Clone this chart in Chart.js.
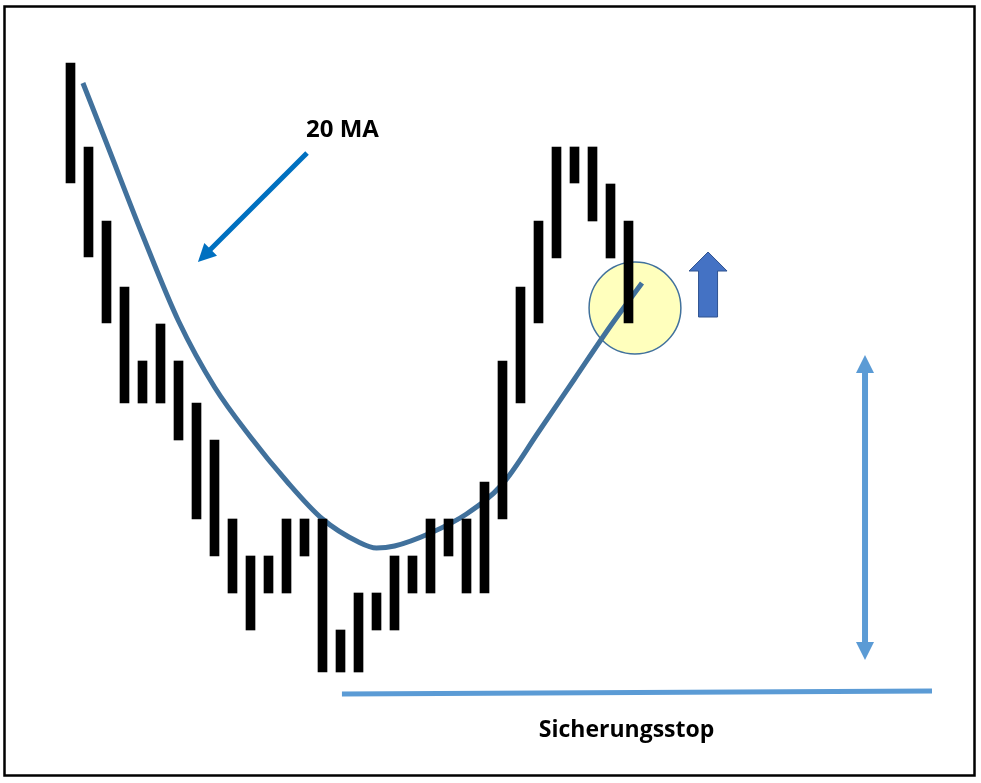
<!DOCTYPE html>
<html>
<head>
<meta charset="utf-8">
<script src="https://cdn.jsdelivr.net/npm/chart.js@4/dist/chart.umd.min.js"></script>
<style>
html,body{margin:0;padding:0;background:#fff;overflow:hidden}
#wrap{width:981px;height:783px;position:relative}
</style>
</head>
<body>
<div id="wrap"><canvas id="c" width="981" height="783"></canvas></div>
<script>
// ---- Data (price units) ----
const barIndex = [0,1,2,3,4,5,6,7,8,9,10,11,12,13,14,15,16,17,18,19,20,21,22,23,24,25,26,27,28,29,30,31];
const barHigh  = [72.0,63.6,56.2,49.6,42.2,45.9,42.2,38.0,34.3,26.4,22.7,22.7,26.4,26.4,26.4,15.3,19.0,19.0,22.7,22.7,26.4,26.4,26.4,30.1,42.2,49.6,56.2,63.6,63.6,63.6,59.9,56.2];
const barLow   = [60.0,52.6,46.0,38.0,38.0,38.0,34.3,26.4,22.7,19.0,15.3,19.0,19.0,22.7,11.1,11.1,11.1,15.3,15.3,19.0,19.0,22.7,19.0,19.0,26.4,38.0,46.0,52.5,60.0,56.2,52.5,46.0];

// 20-period moving average (sampled along the curve)
const maX     = [0.69,2,4,6,8,10,12,14,16,17,18,20,22,24,26,28,30,31.75];
const maValue = [70.0,64.0,54.8,46.2,39.6,34.6,30.2,26.4,24.1,23.5,23.7,25.0,26.9,29.9,35.1,40.4,45.7,50.0];

const labelMA = "20 MA";
const labelStop = "Sicherungsstop";

// ---- Annotation anchors (in data units) ----
const ann = {
  maLabel:   {x: 15.11, y: 64.6},
  maArrow:   {x1: 13.14, y1: 63.0, x2: 7.08, y2: 52.1},
  circle:    {x: 31.36, y: 47.5, r: 2.55},
  upArrow:   {x: 35.42, yTip: 53.1, yBase: 46.6},
  range:     {x: 44.14, yTop: 42.8, yBottom: 12.3},
  stopLine:  {x1: 15.08, y1: 8.9, x2: 47.86, y2: 9.2},
  stopLabel: {x: 30.89, y: 4.6}
};

const barData = barIndex.map((x, i) => ({x: x, y: [barLow[i], barHigh[i]]}));
const maData = maX.map((x, i) => ({x: x, y: maValue[i]}));

function arrowHead(ctx, x1, y1, x2, y2, len, width) {
  const a = Math.atan2(y2 - y1, x2 - x1);
  const bx = x2 - len * Math.cos(a), by = y2 - len * Math.sin(a);
  const nx = -Math.sin(a) * width / 2, ny = Math.cos(a) * width / 2;
  ctx.beginPath();
  ctx.moveTo(x2, y2);
  ctx.lineTo(bx + nx, by + ny);
  ctx.lineTo(bx - nx, by - ny);
  ctx.closePath();
  ctx.fill();
  return [bx, by];
}

const textFont = '"Open Sans", Lato, sans-serif';

const annotPlugin = {
  id: 'annot',
  beforeDatasetDraw(chart, args) {
    if (args.index !== 1) return;
    const ctx = chart.ctx, xs = chart.scales.x, ys = chart.scales.y;
    const c = ann.circle;
    const cx = xs.getPixelForValue(c.x), cy = ys.getPixelForValue(c.y);
    const r = xs.getPixelForValue(c.x + c.r) - cx;
    ctx.save();
    ctx.beginPath();
    ctx.arc(cx, cy, r, 0, Math.PI * 2);
    ctx.fillStyle = 'rgba(255,255,0,0.26)';
    ctx.fill();
    ctx.lineWidth = 1.5;
    ctx.strokeStyle = '#41719C';
    ctx.stroke();
    ctx.restore();
  },
  afterDatasetsDraw(chart) {
    const ctx = chart.ctx, xs = chart.scales.x, ys = chart.scales.y;
    const X = v => xs.getPixelForValue(v), Y = v => ys.getPixelForValue(v);
    ctx.save();

    // 20 MA label
    ctx.fillStyle = '#000';
    ctx.font = 'bold 24px ' + textFont;
    ctx.textAlign = 'center';
    ctx.textBaseline = 'alphabetic';
    ctx.fillText(labelMA, X(ann.maLabel.x), Y(ann.maLabel.y));

    // arrow pointing at MA
    {
      const a = ann.maArrow;
      const x1 = X(a.x1), y1 = Y(a.y1), x2 = X(a.x2), y2 = Y(a.y2);
      ctx.fillStyle = '#0070C0';
      ctx.strokeStyle = '#0070C0';
      const [bx, by] = arrowHead(ctx, x1, y1, x2, y2, 18, 18);
      ctx.lineWidth = 5;
      ctx.lineCap = 'butt';
      ctx.beginPath();
      ctx.moveTo(x1, y1);
      ctx.lineTo(bx + (x2 - bx) * 0.2, by + (y2 - by) * 0.2);
      ctx.stroke();
    }

    // block up arrow
    {
      const u = ann.upArrow;
      const cx = X(u.x), tip = Y(u.yTip), base = Y(u.yBase);
      const headH = 19, headW = 19, shaftW = 9.5;
      ctx.beginPath();
      ctx.moveTo(cx, tip);
      ctx.lineTo(cx + headW, tip + headH);
      ctx.lineTo(cx + shaftW, tip + headH);
      ctx.lineTo(cx + shaftW, base);
      ctx.lineTo(cx - shaftW, base);
      ctx.lineTo(cx - shaftW, tip + headH);
      ctx.lineTo(cx - headW, tip + headH);
      ctx.closePath();
      ctx.fillStyle = '#4472C4';
      ctx.fill();
      ctx.lineWidth = 1;
      ctx.strokeStyle = '#2F528F';
      ctx.stroke();
    }

    // double-headed range arrow
    {
      const r = ann.range;
      const x = X(r.x), yt = Y(r.yTop), yb = Y(r.yBottom);
      ctx.fillStyle = '#5B9BD5';
      ctx.strokeStyle = '#5B9BD5';
      arrowHead(ctx, x, yb, x, yt, 18, 18);
      arrowHead(ctx, x, yt, x, yb, 18, 18);
      ctx.lineWidth = 6;
      ctx.lineCap = 'butt';
      ctx.beginPath();
      ctx.moveTo(x, yt + 16);
      ctx.lineTo(x, yb - 16);
      ctx.stroke();
    }

    // protective stop line
    {
      const s = ann.stopLine;
      ctx.strokeStyle = '#5B9BD5';
      ctx.lineWidth = 5;
      ctx.lineCap = 'butt';
      ctx.beginPath();
      ctx.moveTo(X(s.x1), Y(s.y1));
      ctx.lineTo(X(s.x2), Y(s.y2));
      ctx.stroke();
    }

    // stop label
    ctx.fillStyle = '#000';
    ctx.font = 'bold 23px ' + textFont;
    ctx.textAlign = 'center';
    ctx.fillText(labelStop, X(ann.stopLabel.x), Y(ann.stopLabel.y));

    // frame
    ctx.strokeStyle = '#000';
    ctx.lineWidth = 2.5;
    ctx.strokeRect(4.5, 6.5, 970, 769);
    ctx.restore();
  }
};

const bgPlugin = {
  id: 'bg',
  beforeDraw(chart) {
    const ctx = chart.ctx;
    ctx.save();
    ctx.fillStyle = '#fff';
    ctx.fillRect(0, 0, chart.width, chart.height);
    ctx.restore();
  }
};

new Chart(document.getElementById('c'), {
  type: 'bar',
  data: {
    datasets: [
      {
        type: 'bar',
        label: 'Kurs',
        data: barData,
        backgroundColor: '#000',
        borderWidth: 0,
        barThickness: 9,
        grouped: false
      },
      {
        type: 'line',
        label: '20 MA',
        data: maData,
        borderColor: '#41719C',
        borderWidth: 5,
        borderCapStyle: 'butt',
        pointRadius: 0,
        cubicInterpolationMode: 'monotone',
        fill: false
      }
    ]
  },
  options: {
    responsive: false,
    animation: false,
    layout: {padding: 0},
    scales: {
      x: {type: 'linear', min: -3.9167, max: 50.5833, offset: false, display: false},
      y: {type: 'linear', min: 0, max: 78.3, display: false}
    },
    plugins: {legend: {display: false}, tooltip: {enabled: false}}
  },
  plugins: [bgPlugin, annotPlugin]
});
</script>
</body>
</html>
